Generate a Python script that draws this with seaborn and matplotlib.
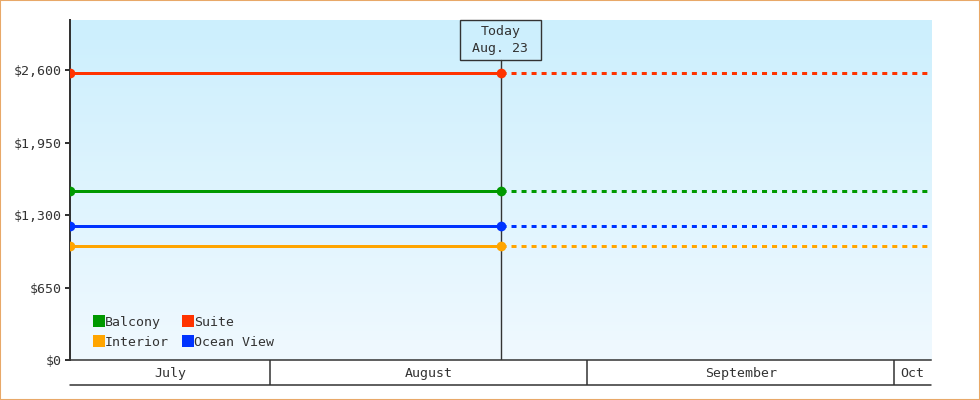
import matplotlib
matplotlib.use("Agg")
import matplotlib.pyplot as plt
import matplotlib.dates as mdates
import matplotlib.transforms as mtransforms
from matplotlib.lines import Line2D
from matplotlib.patches import Rectangle
import numpy as np
import pandas as pd
import seaborn as sns

# ---------------- data ----------------
cabin_types = ["Balcony", "Interior", "Suite", "Ocean View"]
prices = [1515, 1022, 2576, 1201]
colors = ["#009900", "#FFA500", "#FF3300", "#0033FF"]
start_date = "2024-07-12 10:00"
today_date = "2024-08-23 12:00"
end_date = "2024-10-04 14:00"
today_label = "Today\n Aug. 23 "
y_ticks = [0, 650, 1300, 1950, 2600]
y_tick_labels = ["$0", "$650", "$1,300", "$1,950", "$2,600"]
month_starts = ["2024-08-01", "2024-09-01", "2024-10-01"]
month_labels = ["July", "August", "September", "Oct"]
y_max = 3050

# ---------------- style ----------------
sns.set_style("white")
plt.rcParams["font.family"] = ["DejaVu Sans Mono", "DejaVu Sans"]
plt.rcParams["font.size"] = 9.5
TXT = "#333333"

W, H = 980, 400
fig = plt.figure(figsize=(W / 100, H / 100), dpi=100)
fig.patch.set_facecolor("white")
L, R, T, B = 70, 931, 20, 360
ax = fig.add_axes([L / W, 1 - B / H, (R - L) / W, (B - T) / H])

t0 = pd.Timestamp(start_date)
t1 = pd.Timestamp(today_date)
t2 = pd.Timestamp(end_date)

actual = pd.DataFrame({
    "date": [t0] * len(cabin_types) + [t1] * len(cabin_types),
    "price": prices * 2,
    "type": cabin_types * 2,
})
projected = pd.DataFrame({
    "date": [t1] * len(cabin_types) + [t2] * len(cabin_types),
    "price": prices * 2,
    "type": cabin_types * 2,
})

# gradient background
grad = np.linspace(0, 1, 256).reshape(-1, 1)
top_c = np.array([0xCC, 0xEF, 0xFD]) / 255
bot_c = np.array([0xF0, 0xF9, 0xFF]) / 255
img = top_c[None, None, :] * (1 - grad[..., None]) + bot_c[None, None, :] * grad[..., None]
ax.imshow(img, extent=[0, 1, 0, 1], transform=ax.transAxes, aspect="auto", zorder=0,
          origin="upper")

lw = 2.16
sns.lineplot(data=projected, x="date", y="price", hue="type", hue_order=cabin_types,
             palette=colors, linewidth=lw, linestyle=(0, (1.67, 1.67)),
             legend=False, ax=ax, zorder=2)
sns.lineplot(data=actual, x="date", y="price", hue="type", hue_order=cabin_types,
             palette=colors, linewidth=lw, marker="o", markersize=7,
             markeredgewidth=0, legend=False, ax=ax, zorder=3)

ax.set_xlim(t0, t2)
ax.set_ylim(0, y_max)
ax.set_xlabel("")
ax.set_ylabel("")

# today marker
box_bottom = (B - 60) / (B - T)
ax.axvline(t1, ymin=0, ymax=box_bottom, color=TXT, lw=1.0, zorder=2.5)
trans = mtransforms.blended_transform_factory(ax.transData, ax.transAxes)
ax.text(t1, (B - 40) / (B - T), today_label, transform=trans, ha="center", va="center",
        color=TXT, linespacing=1.45, zorder=4,
        bbox=dict(boxstyle="square,pad=0.33", fc="none", ec=TXT, lw=1.0))

# y axis
ax.set_yticks(y_ticks)
ax.set_yticklabels(y_tick_labels)
ax.tick_params(axis="y", which="major", left=True, direction="out", length=3.6,
               width=1.44, color=TXT, labelcolor=TXT, pad=2)

# x axis: month bands
major = [pd.Timestamp(m) for m in month_starts]
bounds = [t0] + major + [t2]
centers = [bounds[i] + (bounds[i + 1] - bounds[i]) / 2 for i in range(len(bounds) - 1)]
ax.set_xticks(major)
ax.set_xticklabels([""] * len(major))
ax.set_xticks(centers, minor=True)
ax.set_xticklabels(month_labels, minor=True)
ax.tick_params(axis="x", which="major", bottom=True, direction="out", length=18,
               width=1.1, color=TXT)
ax.tick_params(axis="x", which="minor", bottom=True, length=0, pad=5, labelcolor=TXT)

for s in ["top", "right"]:
    ax.spines[s].set_visible(False)
ax.spines["left"].set_color(TXT)
ax.spines["left"].set_linewidth(1.44)
ax.spines["bottom"].set_color(TXT)
ax.spines["bottom"].set_linewidth(1.1)
ax.plot([0, 1], [-25 / (B - T)] * 2, transform=ax.transAxes, color=TXT, lw=1.1,
        clip_on=False)

# legend
handles = [Line2D([], [], linestyle="none", marker="s", markersize=8,
                  markerfacecolor=c, markeredgewidth=0) for c in colors]
ax.legend(handles, cabin_types, loc="lower left", bbox_to_anchor=(23 / (R - L), 11 / (B - T)),
          ncol=2, frameon=False, handlelength=0.85, handletextpad=0.05,
          columnspacing=1.0, labelspacing=0.55, borderpad=0, borderaxespad=0,
          labelcolor=TXT)

# outer border
fig.patches.append(Rectangle((0, 0), 1, 1, transform=fig.transFigure, fill=False,
                             ec="#E8A868", lw=1.5))

fig.savefig("out.png", dpi=100)
